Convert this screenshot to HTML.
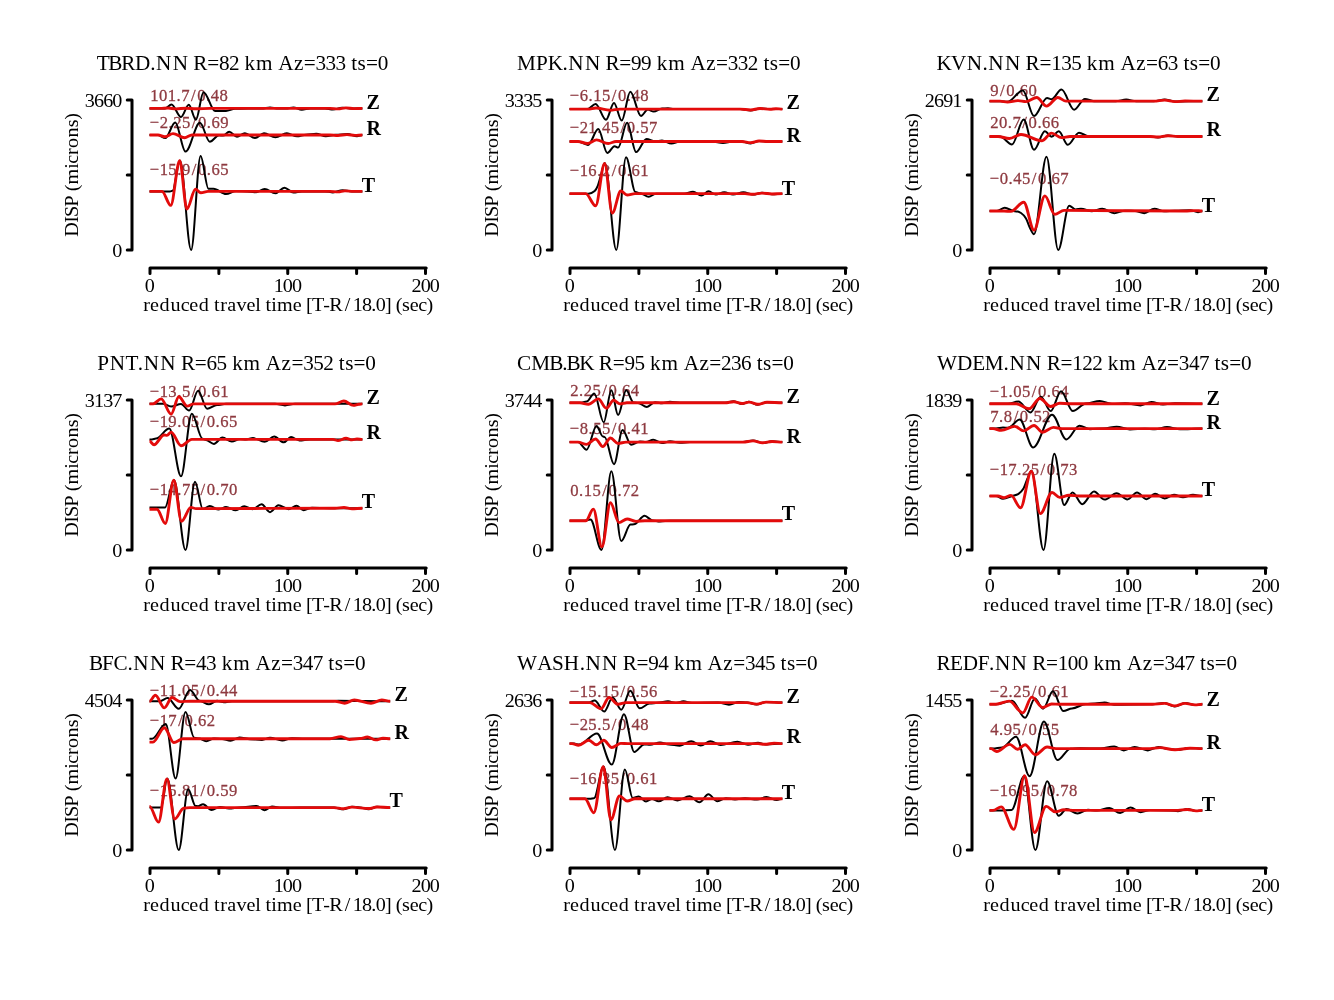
<!DOCTYPE html>
<html lang="en"><head><meta charset="utf-8"><title>Waveform fits</title>
<style>html,body{margin:0;padding:0;background:#fff;overflow:hidden}svg{display:block}text{font-family:"Liberation Serif","DejaVu Serif",serif;white-space:pre}.h{font-size:20.3px;fill:#000}.t{font-size:19.3px;fill:#000}.a{font-size:17.7px;fill:#8e3a40;stroke:#8e3a40;stroke-width:.3px}.c{font-size:20px;font-weight:bold;fill:#000}.ax{stroke:#000;stroke-width:3;fill:none;stroke-linecap:round;stroke-linejoin:round}.k{stroke:#000;stroke-width:2.0;fill:none;stroke-linejoin:round}.r{stroke:#e30b0b;stroke-width:2.9;fill:none;stroke-linejoin:round}</style></head><body>
<svg width="1334" height="1000" viewBox="0 0 1334 1000">
<rect width="1334" height="1000" fill="#fff"/>
<g>
<text class="h" transform="scale(1.0450 1)" x="92.5 103.66 115.92 129.18 143.78 149.35 165.28 180.43 185 198.25 209.5 219.08 228.81 234 244.97 261.18 266.24 281.32 290.7 301.94 311.53 321.11 330.84 336.07 342.13 350.23 361.48" y="70.3">TBRD.NN R=82 km Az=333 ts=0</text>
<path class="ax" d="M127.25 100 H132 V250 H127.25 M127.25 175 H132"/>
<path class="ax" d="M150 273.5 V268 H426.2 M425.5 268 V273.5M218.88 268 V273.5M287.75 268 V273.5M356.62 268 V273.5"/>
<text class="t" transform="scale(1.0450 1)" x="81.19 89.97 98.75 107.53" y="106.7">3660</text>
<text class="t" transform="scale(1.0450 1)" x="107.53" y="256.8">0</text>
<text class="t" transform="scale(1.0450 1)" x="138.62" y="291.7">0</text>
<text class="t" transform="scale(1.0450 1)" x="261.9 270.68 279.46" y="291.7">100</text>
<text class="t" transform="scale(1.0450 1)" x="393.76 402.54 411.32" y="291.7">200</text>
<text class="t" transform="scale(1.0450 1)" x="136.98 143.59 152.61 163.27 173.01 181.11 190.14 200.11 204.9 210.7 217.49 226.29 236 244.37 249.38 254.17 259.59 265.07 280.25 288.52 292.84 298.47 309.45 315.02 329.96 337.53 346.31 355.3 359.48 368.4 374.32 378.64 384.74 392.14 400.25 408.14" y="311.1">reduced travel time [T-R/18.0] (sec)</text>
<text class="t" transform="translate(78 175) rotate(-90) scale(1.0450 1)" x="-59.18 -45.67 -40.26 -30.35 -19.89 -15.58 -9.19 5.94 10.79 19.23 25.88 35.78 45.68 52.87" y="0">DISP (microns)</text>
<text class="a" transform="scale(0.9400 1)" x="159.79 169.07 178.35 187.79 192.8 203.3 209.88 219.31 224.32 233.6" y="101.15">101.7/0.48</text>
<text class="a" transform="scale(0.9400 1)" x="159.34 169.84 179.27 184.28 193.56 204.07 210.64 220.08 225.09 234.37" y="127.95">−2.25/0.69</text>
<text class="a" transform="scale(0.9400 1)" x="159.34 169.84 179.12 188.56 193.56 204.07 210.64 220.08 225.09 234.37" y="174.55">−15.9/0.65</text>
<path class="k" d="M149.5 108.4L165 108.4C167.21 108.4 169.29 104.4 171.5 104.4C174.73 104.4 177.77 117 181 117C183.65 117 186.15 104.8 188.8 104.8C191.21 104.8 193.49 119.7 195.9 119.7C198.48 119.7 200.92 92.2 203.5 92.2C207.48 92.2 211.22 111.1 215.2 111.1C218.87 111.1 222.33 111 226 111C229.06 111 231.94 108.8 235 108.8C244.18 108.8 252.82 108.4 262 108.4C264.72 108.4 267.28 107.42 270 107.42C272.72 107.42 275.28 108.4 278 108.4L286 108.4C288.52 108.4 290.88 107.42 293.4 107.42C296.26 107.42 298.94 109.71 301.8 109.71C304.59 109.71 307.21 108.4 310 108.4L325 108.4C327.72 108.4 330.28 109.55 333 109.55C336.06 109.55 338.94 107.74 342 107.74C344.72 107.74 347.28 108.4 350 108.4L362.4 108.4"/>
<path class="k" d="M149.5 135L158 135C160.48 135 162.82 138.1 165.3 138.1C168.67 138.1 171.83 122.4 175.2 122.4C178.7 122.4 182 151.6 185.5 151.6C190.4 151.6 195 122.8 199.9 122.8C203.27 122.8 206.43 141.7 209.8 141.7C212.93 141.7 215.87 135.2 219 135.2C220.36 135.2 221.64 135.6 223 135.6C225.11 135.6 227.09 131.8 229.2 131.8C231.85 131.8 234.35 136.7 237 136.7C239.69 136.7 242.21 133.2 244.9 133.2C248.33 133.2 251.57 137.95 255 137.95C258.06 137.95 260.94 133.36 264 133.36C267.88 133.36 271.52 137.3 275.4 137.3C279.28 137.3 282.92 133.36 286.8 133.36C290.27 133.36 293.53 136.31 297 136.31C300.06 136.31 302.94 134.67 306 134.67C309.47 134.67 312.73 133.69 316.2 133.69C319.46 133.69 322.54 136.31 325.8 136.31C329.27 136.31 332.53 134.84 336 134.84C339.88 134.84 343.52 134.02 347.4 134.02C350.66 134.02 353.74 136.31 357 136.31C358.84 136.31 360.56 135 362.4 135"/>
<path class="k" d="M149.5 191.4L170 191.4C170.85 191.4 171.65 190.8 172.5 190.8C175.05 190.8 177.45 160.5 180 160.5C183.77 160.5 187.33 250 191.1 250C194.33 250 197.37 155.9 200.6 155.9C203.29 155.9 205.81 188.8 208.5 188.8L213.5 188.8C217.75 188.8 221.75 194.1 226 194.1C229.4 194.1 232.6 191 236 191C240.76 191 245.24 191.73 250 191.73C252.04 191.73 253.96 192.22 256 192.22C258.92 192.22 261.68 188.94 264.6 188.94C268.27 188.94 271.73 193.37 275.4 193.37C278.46 193.37 281.34 187.79 284.4 187.79C287.46 187.79 290.34 192.38 293.4 192.38C296.32 192.38 299.08 191.4 302 191.4L325 191.4C327.72 191.4 330.28 192.38 333 192.38C336.26 192.38 339.34 190.25 342.6 190.25C345.8 190.25 348.8 191.4 352 191.4L362.4 191.4"/>
<path class="r" d="M149.5 108.4L160 108.4C162.72 108.4 165.28 108 168 108C170.72 108 173.28 108.9 176 108.9C179.4 108.9 182.6 108.2 186 108.2C189.4 108.2 192.6 108.8 196 108.8C200.76 108.8 205.24 108.4 210 108.4L330 108.4C332.72 108.4 335.28 108.88 338 108.88C340.72 108.88 343.28 107.92 346 107.92C348.72 107.92 351.28 108.64 354 108.64C356.86 108.64 359.54 108.4 362.4 108.4"/>
<path class="r" d="M149.5 135L158 135C160.38 135 162.62 136.8 165 136.8C167.72 136.8 170.28 133.6 173 133.6C176.94 133.6 180.66 137.7 184.6 137.7C187.12 137.7 189.48 135 192 135L300 135L330 135C332.72 135 335.28 135.48 338 135.48C341.06 135.48 343.94 134.64 347 134.64C349.72 134.64 352.28 135.36 355 135.36C357.52 135.36 359.88 135 362.4 135"/>
<path class="r" d="M149.5 191.4L162 191.4C164.96 191.4 167.74 205.4 170.7 205.4C173.76 205.4 176.64 160.8 179.7 160.8C182.15 160.8 184.45 209 186.9 209C189.79 209 192.51 189.2 195.4 189.2C197.24 189.2 198.96 192.8 200.8 192.8C203.25 192.8 205.55 191.4 208 191.4L330 191.4C332.72 191.4 335.28 191.88 338 191.88C340.38 191.88 342.62 190.92 345 190.92C347.72 190.92 350.28 191.4 353 191.4L362.4 191.4"/>
<text class="c" x="366.6" y="108.7">Z</text>
<text class="c" x="366.6" y="135.3">R</text>
<text class="c" x="361.8" y="191.7">T</text>
</g>
<g>
<text class="h" transform="scale(1.0450 1)" x="494.78 513.01 524.07 538.22 543.79 559.72 574.87 579.43 592.69 603.94 613.52 623.25 628.43 639.41 655.62 660.68 675.75 685.13 696.38 705.97 715.55 725.28 730.51 736.57 744.67 755.92" y="70.3">MPK.NN R=99 km Az=332 ts=0</text>
<path class="ax" d="M547.25 100 H552 V250 H547.25 M547.25 175 H552"/>
<path class="ax" d="M570 273.5 V268 H846.2 M845.5 268 V273.5M638.88 268 V273.5M707.75 268 V273.5M776.62 268 V273.5"/>
<text class="t" transform="scale(1.0450 1)" x="483.11 491.89 500.67 509.45" y="106.7">3335</text>
<text class="t" transform="scale(1.0450 1)" x="509.45" y="256.8">0</text>
<text class="t" transform="scale(1.0450 1)" x="540.53" y="291.7">0</text>
<text class="t" transform="scale(1.0450 1)" x="663.81 672.59 681.37" y="291.7">100</text>
<text class="t" transform="scale(1.0450 1)" x="795.68 804.46 813.24" y="291.7">200</text>
<text class="t" transform="scale(1.0450 1)" x="538.9 545.5 554.53 565.19 574.92 583.03 592.05 602.03 606.81 612.61 619.4 628.21 637.92 646.28 651.3 656.09 661.5 666.99 682.17 690.44 694.76 700.38 711.37 716.93 731.87 739.44 748.22 757.22 761.39 770.32 776.24 780.55 786.66 794.06 802.16 810.05" y="311.1">reduced travel time [T-R/18.0] (sec)</text>
<text class="t" transform="translate(498 175) rotate(-90) scale(1.0450 1)" x="-59.18 -45.67 -40.26 -30.35 -19.89 -15.58 -9.19 5.94 10.79 19.23 25.88 35.78 45.68 52.87" y="0">DISP (microns)</text>
<text class="a" transform="scale(0.9400 1)" x="606.15 616.65 626.08 631.09 640.37 650.88 657.45 666.89 671.89 681.18" y="100.95">−6.15/0.48</text>
<text class="a" transform="scale(0.9400 1)" x="606.15 616.65 625.93 635.36 640.37 649.65 660.16 666.73 676.17 681.18 690.46" y="132.85">−21.45/0.57</text>
<text class="a" transform="scale(0.9400 1)" x="606.15 616.65 625.93 635.36 640.37 650.88 657.45 666.89 671.89 681.18" y="175.8">−16.2/0.61</text>
<path class="k" d="M569.5 109.1L587.5 109.1C590.25 109.1 592.85 103.9 595.6 103.9C599.14 103.9 602.46 119.7 606 119.7C608.72 119.7 611.28 103 614 103C616.62 103 619.08 120.6 621.7 120.6C624.62 120.6 627.38 91.8 630.3 91.8C633.94 91.8 637.36 116 641 116C643.31 116 645.49 109.6 647.8 109.6C649.81 109.6 651.69 111.6 653.7 111.6C656.52 111.6 659.18 108.6 662 108.6C664.04 108.6 665.96 108.36 668 108.36C670.04 108.36 671.96 109.1 674 109.1L740 109.1C743.6 109.1 747 110.49 750.6 110.49C753.8 110.49 756.8 108.53 760 108.53C763.4 108.53 766.6 109.1 770 109.1L782.4 109.1"/>
<path class="k" d="M569.5 141.5L578 141.5C581.4 141.5 584.6 144.9 588 144.9C591.5 144.9 594.8 129.1 598.3 129.1C601.36 129.1 604.24 153 607.3 153C609.75 153 612.05 146.2 614.5 146.2C615.72 146.2 616.88 147.6 618.1 147.6C621.16 147.6 624.04 122.8 627.1 122.8C630.16 122.8 633.04 152.1 636.1 152.1C639.64 152.1 642.96 139 646.5 139C649.39 139 652.11 141.2 655 141.2C657.38 141.2 659.62 140.6 662 140.6C665.2 140.6 668.2 143.55 671.4 143.55C674.32 143.55 677.08 141.5 680 141.5L712 141.5C715.74 141.5 719.26 143.06 723 143.06C726.4 143.06 729.6 141.5 733 141.5L742 141.5C744.92 141.5 747.68 143.39 750.6 143.39C753.46 143.39 756.14 140.93 759 140.93C762.06 140.93 764.94 141.5 768 141.5L782.4 141.5"/>
<path class="k" d="M569.5 193.65L588.4 193.65C590.54 193.65 592.56 192.79 594.7 190.95C595.77 190.03 596.78 188.17 597.85 185.55C598.78 183.26 599.67 179.53 600.6 176.5C602.03 171.87 603.37 163 604.8 163C608.71 163 612.39 250 616.3 250C619.6 250 622.7 157.2 626 157.2C629.23 157.2 632.27 192 635.5 192C637.03 192 638.47 193.2 640 193.2C642.96 193.2 645.74 196.8 648.7 196.8C651.18 196.8 653.52 193.65 656 193.65L684 193.65C687.06 193.65 689.94 191.81 693 191.81C695.86 191.81 698.54 195.58 701.4 195.58C703.85 195.58 706.15 191.31 708.6 191.31C711.05 191.31 713.35 194.59 715.8 194.59C718.66 194.59 721.34 192.13 724.2 192.13C727.19 192.13 730.01 194.59 733 194.59C736.54 194.59 739.86 192.13 743.4 192.13C746.66 192.13 749.74 194.59 753 194.59C756.06 194.59 758.94 192.79 762 192.79C765.4 192.79 768.6 194.27 772 194.27C775.54 194.27 778.86 193.65 782.4 193.65"/>
<path class="r" d="M569.5 109.1L588 109.1C590.72 109.1 593.28 108 596 108C600.76 108 605.24 110.2 610 110.2C613.4 110.2 616.6 109.1 620 109.1L740 109.1C743.6 109.1 747 110 750.6 110C753.8 110 756.8 108.56 760 108.56C763.4 108.56 766.6 109.28 770 109.28C772.04 109.28 773.96 108.68 776 108.68C778.18 108.68 780.22 109.1 782.4 109.1"/>
<path class="r" d="M569.5 141.5L578 141.5C581.23 141.5 584.27 143.5 587.5 143.5C590.56 143.5 593.44 139.9 596.5 139.9C600.48 139.9 604.22 143.5 608.2 143.5C610.85 143.5 613.35 141.5 616 141.5L742 141.5C744.92 141.5 747.68 142.64 750.6 142.64C753.46 142.64 756.14 140.96 759 140.96C762.06 140.96 764.94 141.5 768 141.5L782.4 141.5"/>
<path class="r" d="M569.5 193.65L585.7 193.65C589.07 193.65 592.23 205.8 595.6 205.8C598.66 205.8 601.54 163.5 604.6 163.5C607.22 163.5 609.68 213 612.3 213C615.19 213 617.91 191 620.8 191C622.94 191 624.96 195 627.1 195C629.79 195 632.31 193.65 635 193.65L745 193.65C747.72 193.65 750.28 194.22 753 194.22C756.06 194.22 758.94 193.14 762 193.14C765.4 193.14 768.6 193.98 772 193.98C775.54 193.98 778.86 193.65 782.4 193.65"/>
<text class="c" x="786.6" y="109.4">Z</text>
<text class="c" x="786.6" y="141.5">R</text>
<text class="c" x="781.8" y="194.95">T</text>
</g>
<g>
<text class="h" transform="scale(1.0450 1)" x="896.28 910.16 925.04 940.19 945.76 961.69 976.84 981.41 994.66 1005.91 1015.49 1025.08 1034.8 1039.99 1050.96 1067.18 1072.24 1087.31 1096.69 1107.94 1117.52 1127.25 1132.48 1138.54 1146.64 1157.89" y="70.3">KVN.NN R=135 km Az=63 ts=0</text>
<path class="ax" d="M967.25 100 H972 V250 H967.25 M967.25 175 H972"/>
<path class="ax" d="M990 273.5 V268 H1266.2 M1265.5 268 V273.5M1058.88 268 V273.5M1127.75 268 V273.5M1196.62 268 V273.5"/>
<text class="t" transform="scale(1.0450 1)" x="885.02 893.8 902.58 911.36" y="106.7">2691</text>
<text class="t" transform="scale(1.0450 1)" x="911.36" y="256.8">0</text>
<text class="t" transform="scale(1.0450 1)" x="942.45" y="291.7">0</text>
<text class="t" transform="scale(1.0450 1)" x="1065.73 1074.51 1083.29" y="291.7">100</text>
<text class="t" transform="scale(1.0450 1)" x="1197.59 1206.37 1215.15" y="291.7">200</text>
<text class="t" transform="scale(1.0450 1)" x="940.81 947.41 956.44 967.1 976.84 984.94 993.97 1003.94 1008.73 1014.53 1021.31 1030.12 1039.83 1048.19 1053.21 1058 1063.42 1068.9 1084.08 1092.35 1096.67 1102.3 1113.28 1118.85 1133.79 1141.36 1150.14 1159.13 1163.31 1172.23 1178.15 1182.47 1188.57 1195.97 1204.08 1211.97" y="311.1">reduced travel time [T-R/18.0] (sec)</text>
<text class="t" transform="translate(918 175) rotate(-90) scale(1.0450 1)" x="-59.18 -45.67 -40.26 -30.35 -19.89 -15.58 -9.19 5.94 10.79 19.23 25.88 35.78 45.68 52.87" y="0">DISP (microns)</text>
<text class="a" transform="scale(0.9400 1)" x="1053.41 1063.91 1070.49 1079.92 1084.93 1094.21" y="95.9">9/0.60</text>
<text class="a" transform="scale(0.9400 1)" x="1053.41 1062.69 1072.12 1077.13 1087.64 1094.21 1103.64 1108.65 1117.94" y="127.85">20.7/0.66</text>
<text class="a" transform="scale(0.9400 1)" x="1052.96 1063.46 1072.89 1077.9 1087.18 1097.69 1104.26 1113.69 1118.7 1127.98" y="183.9">−0.45/0.67</text>
<path class="k" d="M989.5 101.15L1000 101.15C1002.55 101.15 1004.95 101.8 1007.5 101.8C1012.7 101.8 1017.6 90.4 1022.8 90.4C1026.61 90.4 1030.19 116 1034 116C1038.45 116 1042.65 98 1047.1 98C1048.6 98 1050 99.2 1051.5 99.2C1054.9 99.2 1058.1 89.5 1061.5 89.5C1065.78 89.5 1069.82 109.7 1074.1 109.7C1077.77 109.7 1081.23 98.9 1084.9 98.9C1087.99 98.9 1090.91 101.15 1094 101.15L1116 101.15C1119.47 101.15 1122.73 99.55 1126.2 99.55C1129.53 99.55 1132.67 101.15 1136 101.15L1154 101.15C1157.6 101.15 1161 99.55 1164.6 99.55C1168.14 99.55 1171.46 101.52 1175 101.52C1184.32 101.52 1193.08 101.15 1202.4 101.15"/>
<path class="k" d="M989.5 136.5L1000 136.5C1004.08 136.5 1007.92 144.4 1012 144.4C1015.98 144.4 1019.72 119.6 1023.7 119.6C1027.2 119.6 1030.5 149.8 1034 149.8C1037.71 149.8 1041.19 131.3 1044.9 131.3C1047.18 131.3 1049.32 136.7 1051.6 136.7C1054.05 136.7 1056.35 131.3 1058.8 131.3C1061.86 131.3 1064.74 144.8 1067.8 144.8C1071.61 144.8 1075.19 132.7 1079 132.7C1082.23 132.7 1085.27 136.2 1088.5 136.2C1092.41 136.2 1096.09 137.07 1100 137.07C1103.4 137.07 1106.6 136.5 1110 136.5L1150 136.5C1152.72 136.5 1155.28 137.4 1158 137.4C1161.4 137.4 1164.6 135.6 1168 135.6C1171.4 135.6 1174.6 136.5 1178 136.5L1202.4 136.5"/>
<path class="k" d="M989.5 211L997 211C999.65 211 1002.15 207.8 1004.8 207.8C1008.1 207.8 1011.2 211.2 1014.5 211.2C1016.71 211.2 1018.79 211.6 1021 213C1022.7 214.08 1024.3 215.67 1026 218.5C1027.36 220.77 1028.64 225.33 1030 228C1031.36 230.67 1032.64 234.2 1034 234.2C1038.25 234.2 1042.25 156.75 1046.5 156.75C1050.48 156.75 1054.22 250 1058.2 250C1061.94 250 1065.46 205.8 1069.2 205.8C1071.34 205.8 1073.36 209.4 1075.5 209.4C1077.37 209.4 1079.13 208.8 1081 208.8C1084.74 208.8 1088.26 211.16 1092 211.16C1095.47 211.16 1098.73 208.7 1102.2 208.7C1106.28 208.7 1110.12 213.13 1114.2 213.13C1117.87 213.13 1121.33 210.67 1125 210.67C1128.4 210.67 1131.6 211 1135 211C1138.13 211 1141.07 213.13 1144.2 213.13C1147.67 213.13 1150.93 208.7 1154.4 208.7C1157.66 208.7 1160.74 211.33 1164 211.33C1167.74 211.33 1171.26 210.67 1175 210.67C1180.1 210.67 1184.9 210.18 1190 210.18C1192.72 210.18 1195.28 212.15 1198 212.15C1199.5 212.15 1200.9 211 1202.4 211"/>
<path class="r" d="M989.5 101.15L1000 101.15C1002.55 101.15 1004.95 102 1007.5 102C1011.07 102 1014.43 100.6 1018 100.6C1020.72 100.6 1023.28 101.6 1026 101.6C1029.64 101.6 1033.06 97.5 1036.7 97.5C1040.07 97.5 1043.23 106.1 1046.6 106.1C1050.44 106.1 1054.06 97.5 1057.9 97.5C1060.65 97.5 1063.25 101.15 1066 101.15L1154 101.15C1157.6 101.15 1161 100.1 1164.6 100.1C1168.14 100.1 1171.46 101.66 1175 101.66C1178.4 101.66 1181.6 101.06 1185 101.06C1190.92 101.06 1196.48 101.15 1202.4 101.15"/>
<path class="r" d="M989.5 136.5L998 136.5C1001.84 136.5 1005.46 138.5 1009.3 138.5C1013.28 138.5 1017.02 134.5 1021 134.5C1028.04 134.5 1034.66 140.8 1041.7 140.8C1045.07 140.8 1048.23 133.1 1051.6 133.1C1054.97 133.1 1058.13 137.6 1061.5 137.6C1064.39 137.6 1067.11 136.5 1070 136.5L1150 136.5C1152.72 136.5 1155.28 137.04 1158 137.04C1161.4 137.04 1164.6 135.72 1168 135.72C1171.4 135.72 1174.6 136.5 1178 136.5L1202.4 136.5"/>
<path class="r" d="M989.5 211L1004 211C1006.38 211 1008.62 211.4 1011 211.4C1015.32 211.4 1019.38 202.2 1023.7 202.2C1027.2 202.2 1030.5 230.1 1034 230.1C1037.71 230.1 1041.19 195.9 1044.9 195.9C1048.27 195.9 1051.43 214.4 1054.8 214.4C1057.93 214.4 1060.87 210.4 1064 210.4C1105.14 210.4 1143.86 211 1185 211C1188.4 211 1191.6 210.64 1195 210.64C1197.52 210.64 1199.88 211 1202.4 211"/>
<text class="c" x="1206.6" y="101.45">Z</text>
<text class="c" x="1206.6" y="135.7">R</text>
<text class="c" x="1201.8" y="212.3">T</text>
</g>
<g>
<text class="h" transform="scale(1.0450 1)" x="92.97 105.03 120 131.94 137.5 153.43 168.58 173.15 186.41 197.65 207.24 216.96 222.15 233.12 249.34 254.4 269.47 278.85 290.1 299.68 309.27 318.99 324.23 330.29 338.38 349.63" y="370.3">PNT.NN R=65 km Az=352 ts=0</text>
<path class="ax" d="M127.25 400 H132 V550 H127.25 M127.25 475 H132"/>
<path class="ax" d="M150 573.5 V568 H426.2 M425.5 568 V573.5M218.88 568 V573.5M287.75 568 V573.5M356.62 568 V573.5"/>
<text class="t" transform="scale(1.0450 1)" x="81.19 89.97 98.75 107.53" y="406.7">3137</text>
<text class="t" transform="scale(1.0450 1)" x="107.53" y="556.8">0</text>
<text class="t" transform="scale(1.0450 1)" x="138.62" y="591.7">0</text>
<text class="t" transform="scale(1.0450 1)" x="261.9 270.68 279.46" y="591.7">100</text>
<text class="t" transform="scale(1.0450 1)" x="393.76 402.54 411.32" y="591.7">200</text>
<text class="t" transform="scale(1.0450 1)" x="136.98 143.59 152.61 163.27 173.01 181.11 190.14 200.11 204.9 210.7 217.49 226.29 236 244.37 249.38 254.17 259.59 265.07 280.25 288.52 292.84 298.47 309.45 315.02 329.96 337.53 346.31 355.3 359.48 368.4 374.32 378.64 384.74 392.14 400.25 408.14" y="611.1">reduced travel time [T-R/18.0] (sec)</text>
<text class="t" transform="translate(78 475) rotate(-90) scale(1.0450 1)" x="-59.18 -45.67 -40.26 -30.35 -19.89 -15.58 -9.19 5.94 10.79 19.23 25.88 35.78 45.68 52.87" y="0">DISP (microns)</text>
<text class="a" transform="scale(0.9400 1)" x="159.34 169.84 179.12 188.56 193.56 204.07 210.64 220.08 225.09 234.37" y="396.8">−13.5/0.61</text>
<text class="a" transform="scale(0.9400 1)" x="159.34 169.84 179.12 188.56 193.56 202.85 213.35 219.93 229.36 234.37 243.65" y="426.95">−19.05/0.65</text>
<text class="a" transform="scale(0.9400 1)" x="159.34 169.84 179.12 188.56 193.56 202.85 213.35 219.93 229.36 234.37 243.65" y="494.85">−14.75/0.70</text>
<path class="k" d="M149.5 403.85L163 403.85C165.75 403.85 168.35 406.6 171.1 406.6C174.47 406.6 177.63 403.9 181 403.9C183.75 403.9 186.35 410.6 189.1 410.6C192.16 410.6 195.04 390.8 198.1 390.8C201.16 390.8 204.04 408.8 207.1 408.8C210.47 408.8 213.63 405 217 405C220.06 405 222.94 403.85 226 403.85L275 403.85C278.4 403.85 281.6 405.45 285 405.45C288.4 405.45 291.6 403.85 295 403.85L330 403.85L362.4 403.85"/>
<path class="k" d="M149.5 439.4L152 439.4C153.36 439.4 154.64 438.6 156 438.6C160.52 438.6 164.78 428.6 169.3 428.6C173.28 428.6 177.02 476.25 181 476.25C184.67 476.25 188.13 413.75 191.8 413.75C195.47 413.75 198.93 438.8 202.6 438.8C203.76 438.8 204.84 440 206 440C208.69 440 211.21 443.9 213.9 443.9C216.79 443.9 219.51 437.6 222.4 437.6C225.6 437.6 228.6 441.53 231.8 441.53C234.59 441.53 237.21 439.07 240 439.07C242.04 439.07 243.96 439.56 246 439.56C248.38 439.56 250.62 438.09 253 438.09C256.94 438.09 260.66 441.86 264.6 441.86C267.86 441.86 270.94 436.45 274.2 436.45C277.46 436.45 280.54 442.35 283.8 442.35C286.25 442.35 288.55 437.1 291 437.1C293.86 437.1 296.54 440.38 299.4 440.38C303 440.38 306.4 439.4 310 439.4L335 439.4L362.4 439.4"/>
<path class="k" d="M149.5 507.4L165 507.4C168.06 507.4 170.94 480 174 480C177.91 480 181.59 550.1 185.5 550.1C188.73 550.1 191.77 481.65 195 481.65C197.65 481.65 200.15 509 202.8 509C205.18 509 207.42 506 209.8 506C212.86 506 215.74 509.6 218.8 509.6C221.25 509.6 223.55 506.89 226 506.89C229.33 506.89 232.47 510.33 235.8 510.33C238.66 510.33 241.34 506.23 244.2 506.23C247.02 506.23 249.68 509.18 252.5 509.18C255.59 509.18 258.51 504.26 261.6 504.26C264.46 504.26 267.14 512.14 270 512.14C272.86 512.14 275.54 505.25 278.4 505.25C281.87 505.25 285.13 509.18 288.6 509.18C291.25 509.18 293.75 505.74 296.4 505.74C298.85 505.74 301.15 510.17 303.6 510.17C306.46 510.17 309.14 507.71 312 507.71C319.82 507.71 327.18 508.2 335 508.2L362.4 508.2"/>
<path class="r" d="M149.5 403.85L153 403.85C155.79 403.85 158.41 398.9 161.2 398.9C164.57 398.9 167.73 414.2 171.1 414.2C173.72 414.2 176.18 396.7 178.8 396.7C181.69 396.7 184.41 406.1 187.3 406.1C189.44 406.1 191.46 403.85 193.6 403.85L335 403.85C337.99 403.85 340.81 401.06 343.8 401.06C347.06 401.06 350.14 405.38 353.4 405.38C355.3 405.38 357.1 404.3 359 404.3C360.16 404.3 361.24 403.85 362.4 403.85"/>
<path class="r" d="M149.5 441.2C151.03 441.2 152.47 444.8 154 444.8C157.4 444.8 160.6 435 164 435C165.02 435 165.98 435.4 167 435.4C168.39 435.4 169.71 432.2 171.1 432.2C174.47 432.2 177.63 445.7 181 445.7C184.67 445.7 188.13 439.4 191.8 439.4L333 439.4C334.7 439.4 336.3 440.6 338 440.6C340.72 440.6 343.28 438.32 346 438.32C348.04 438.32 349.96 439.88 352 439.88C353.7 439.88 355.3 439.04 357 439.04C358.84 439.04 360.56 439.4 362.4 439.4"/>
<path class="r" d="M149.5 509.2L157 509.2C159.81 509.2 162.44 523.5 165.25 523.5C168.16 523.5 170.89 480.3 173.8 480.3C176.42 480.3 178.88 521.25 181.5 521.25C184.7 521.25 187.7 507.4 190.9 507.4C192.63 507.4 194.27 508.6 196 508.6C243.26 508.6 287.74 508.2 335 508.2C338.06 508.2 340.94 507.48 344 507.48C346.72 507.48 349.28 508.68 352 508.68C355.54 508.68 358.86 508.2 362.4 508.2"/>
<text class="c" x="366.6" y="403.85">Z</text>
<text class="c" x="366.6" y="439.4">R</text>
<text class="c" x="361.8" y="507.5">T</text>
</g>
<g>
<text class="h" transform="scale(1.0450 1)" x="494.76 508.37 525.54 538.03 542.05 554.3 568.45 573.01 586.27 597.52 607.1 616.83 622.01 632.98 649.2 654.26 669.33 678.71 689.96 699.55 709.13 718.85 724.09 730.15 738.25 749.5" y="370.3">CMB.BK R=95 km Az=236 ts=0</text>
<path class="ax" d="M547.25 400 H552 V550 H547.25 M547.25 475 H552"/>
<path class="ax" d="M570 573.5 V568 H846.2 M845.5 568 V573.5M638.88 568 V573.5M707.75 568 V573.5M776.62 568 V573.5"/>
<text class="t" transform="scale(1.0450 1)" x="483.11 491.89 500.67 509.45" y="406.7">3744</text>
<text class="t" transform="scale(1.0450 1)" x="509.45" y="556.8">0</text>
<text class="t" transform="scale(1.0450 1)" x="540.53" y="591.7">0</text>
<text class="t" transform="scale(1.0450 1)" x="663.81 672.59 681.37" y="591.7">100</text>
<text class="t" transform="scale(1.0450 1)" x="795.68 804.46 813.24" y="591.7">200</text>
<text class="t" transform="scale(1.0450 1)" x="538.9 545.5 554.53 565.19 574.92 583.03 592.05 602.03 606.81 612.61 619.4 628.21 637.92 646.28 651.3 656.09 661.5 666.99 682.17 690.44 694.76 700.38 711.37 716.93 731.87 739.44 748.22 757.22 761.39 770.32 776.24 780.55 786.66 794.06 802.16 810.05" y="611.1">reduced travel time [T-R/18.0] (sec)</text>
<text class="t" transform="translate(498 475) rotate(-90) scale(1.0450 1)" x="-59.18 -45.67 -40.26 -30.35 -19.89 -15.58 -9.19 5.94 10.79 19.23 25.88 35.78 45.68 52.87" y="0">DISP (microns)</text>
<text class="a" transform="scale(0.9400 1)" x="606.6 616.03 621.04 630.32 640.83 647.4 656.84 661.84 671.13" y="395.9">2.25/0.64</text>
<text class="a" transform="scale(0.9400 1)" x="606.15 616.65 626.08 631.09 640.37 650.88 657.45 666.89 671.89 681.18" y="434.15">−8.55/0.41</text>
<text class="a" transform="scale(0.9400 1)" x="606.6 616.03 621.04 630.32 640.83 647.4 656.84 661.84 671.13" y="495.75">0.15/0.72</text>
<path class="k" d="M569.5 402.8L580 402.8C582.24 402.8 584.36 401.6 586.6 401.6C589.2 401.6 591.65 393.5 594.25 393.5C597.46 393.5 600.49 422.3 603.7 422.3C606.3 422.3 608.75 390.35 611.35 390.35C613.64 390.35 615.81 415.1 618.1 415.1C620.85 415.1 623.45 390.35 626.2 390.35C628.68 390.35 631.02 402.4 633.5 402.4C635.03 402.4 636.47 403 638 403C641.03 403 643.87 407 646.9 407C649.65 407 652.25 402.2 655 402.2C657.38 402.2 659.62 403.29 662 403.29C664.72 403.29 667.28 401.82 670 401.82C673.4 401.82 676.6 402.8 680 402.8L725 402.8C727.99 402.8 730.81 401.32 733.8 401.32C736.59 401.32 739.21 404.11 742 404.11C744.38 404.11 746.62 401.82 749 401.82C751.99 401.82 754.81 404.77 757.8 404.77C760.93 404.77 763.87 402.14 767 402.14C772.24 402.14 777.16 402.8 782.4 402.8"/>
<path class="k" d="M569.5 442.1L578 442.1C580.92 442.1 583.68 449.75 586.6 449.75C589.97 449.75 593.13 425.9 596.5 425.9C598.71 425.9 600.79 436.6 603 436.6C603.54 436.6 604.06 437 604.6 437C607.8 437 610.8 464.15 614 464.15C616.92 464.15 619.68 429.95 622.6 429.95C625.51 429.95 628.24 444.8 631.15 444.8C634.16 444.8 636.99 441.6 640 441.6C642.04 441.6 643.96 442 646 442C648.45 442 650.75 439.85 653.2 439.85C656.19 439.85 659.01 443 662 443C664.72 443 667.28 441.36 670 441.36C673.4 441.36 676.6 442.84 680 442.84C683.4 442.84 686.6 442.1 690 442.1L743 442.1C746.4 442.1 749.6 440.38 753 440.38C756.26 440.38 759.34 443 762.6 443C765.8 443 768.8 441.36 772 441.36C775.54 441.36 778.86 442.1 782.4 442.1"/>
<path class="k" d="M569.5 520.7L583 520.7C585.55 520.7 587.95 519.6 590.5 519.6C594.22 519.6 597.73 550.05 601.45 550.05C604.82 550.05 607.98 471.3 611.35 471.3C614.72 471.3 617.88 541.05 621.25 541.05C624.39 541.05 627.36 524.6 630.5 524.6C631.69 524.6 632.81 524.2 634 524.2C637.62 524.2 641.03 515.85 644.65 515.85C647.32 515.85 649.83 520.4 652.5 520.4C655.05 520.4 657.45 521.4 660 521.4C663.4 521.4 666.6 520.7 670 520.7L782.4 520.7"/>
<path class="r" d="M569.5 402.8L580 402.8C582.86 402.8 585.54 404.3 588.4 404.3C591.77 404.3 594.93 398.9 598.3 398.9C601.05 398.9 603.65 408.35 606.4 408.35C608.85 408.35 611.15 400.25 613.6 400.25C615.74 400.25 617.76 403.85 619.9 403.85C622.31 403.85 624.59 402.8 627 402.8L725 402.8C727.99 402.8 730.81 401.72 733.8 401.72C736.59 401.72 739.21 403.52 742 403.52C744.38 403.52 746.62 402.08 749 402.08C751.99 402.08 754.81 404.24 757.8 404.24C760.93 404.24 763.87 402.32 767 402.32C772.24 402.32 777.16 402.8 782.4 402.8"/>
<path class="r" d="M569.5 442.1L578 442.1C580.92 442.1 583.68 444.35 586.6 444.35C589.66 444.35 592.54 438.95 595.6 438.95C598.05 438.95 600.35 446.6 602.8 446.6C605.4 446.6 607.85 438.05 610.45 438.05C613.05 438.05 615.5 443.45 618.1 443.45C620.79 443.45 623.31 442.1 626 442.1L743 442.1C746.4 442.1 749.6 440.84 753 440.84C756.26 440.84 759.34 442.76 762.6 442.76C765.8 442.76 768.8 441.56 772 441.56C775.54 441.56 778.86 442.1 782.4 442.1"/>
<path class="r" d="M569.5 520.7L586 520.7C588.5 520.7 590.85 509.1 593.35 509.1C596.26 509.1 598.99 546.9 601.9 546.9C604.81 546.9 607.54 502.8 610.45 502.8C613.36 502.8 616.09 522.6 619 522.6C621.75 522.6 624.35 519 627.1 519C630.13 519 632.97 521.4 636 521.4C639.06 521.4 641.94 520.7 645 520.7L782.4 520.7"/>
<text class="c" x="786.6" y="403.1">Z</text>
<text class="c" x="786.6" y="443.1">R</text>
<text class="c" x="781.8" y="520">T</text>
</g>
<g>
<text class="h" transform="scale(1.0450 1)" x="896.65 915.91 930.31 942.41 960.36 965.92 981.85 997 1001.57 1014.82 1026.07 1035.66 1045.24 1054.97 1060.15 1071.12 1087.34 1092.4 1107.47 1116.85 1128.1 1137.69 1147.27 1156.99 1162.23 1168.29 1176.39 1187.64" y="370.3">WDEM.NN R=122 km Az=347 ts=0</text>
<path class="ax" d="M967.25 400 H972 V550 H967.25 M967.25 475 H972"/>
<path class="ax" d="M990 573.5 V568 H1266.2 M1265.5 568 V573.5M1058.88 568 V573.5M1127.75 568 V573.5M1196.62 568 V573.5"/>
<text class="t" transform="scale(1.0450 1)" x="885.02 893.8 902.58 911.36" y="406.7">1839</text>
<text class="t" transform="scale(1.0450 1)" x="911.36" y="556.8">0</text>
<text class="t" transform="scale(1.0450 1)" x="942.45" y="591.7">0</text>
<text class="t" transform="scale(1.0450 1)" x="1065.73 1074.51 1083.29" y="591.7">100</text>
<text class="t" transform="scale(1.0450 1)" x="1197.59 1206.37 1215.15" y="591.7">200</text>
<text class="t" transform="scale(1.0450 1)" x="940.81 947.41 956.44 967.1 976.84 984.94 993.97 1003.94 1008.73 1014.53 1021.31 1030.12 1039.83 1048.19 1053.21 1058 1063.42 1068.9 1084.08 1092.35 1096.67 1102.3 1113.28 1118.85 1133.79 1141.36 1150.14 1159.13 1163.31 1172.23 1178.15 1182.47 1188.57 1195.97 1204.08 1211.97" y="611.1">reduced travel time [T-R/18.0] (sec)</text>
<text class="t" transform="translate(918 475) rotate(-90) scale(1.0450 1)" x="-59.18 -45.67 -40.26 -30.35 -19.89 -15.58 -9.19 5.94 10.79 19.23 25.88 35.78 45.68 52.87" y="0">DISP (microns)</text>
<text class="a" transform="scale(0.9400 1)" x="1052.96 1063.46 1072.89 1077.9 1087.18 1097.69 1104.26 1113.69 1118.7 1127.98" y="397.25">−1.05/0.64</text>
<text class="a" transform="scale(0.9400 1)" x="1053.41 1062.84 1067.85 1078.36 1084.93 1094.36 1099.37 1108.65" y="421.75">7.8/0.52</text>
<text class="a" transform="scale(0.9400 1)" x="1052.96 1063.46 1072.74 1082.17 1087.18 1096.46 1106.97 1113.54 1122.98 1127.98 1137.27" y="474.6">−17.25/0.73</text>
<path class="k" d="M989.5 403.7L1008 403.7C1011.5 403.7 1014.8 401.6 1018.3 401.6C1022.43 401.6 1026.32 412.4 1030.45 412.4C1033.97 412.4 1037.28 396.65 1040.8 396.65C1044.17 396.65 1047.33 411.05 1050.7 411.05C1054.22 411.05 1057.53 391.25 1061.05 391.25C1065.03 391.25 1068.77 411.05 1072.75 411.05C1077.26 411.05 1081.49 403.4 1086 403.4C1090.69 403.4 1095.11 401 1099.8 401C1103.95 401 1107.85 404.11 1112 404.11C1116.42 404.11 1120.58 403.29 1125 403.29C1130.3 403.29 1135.3 405.42 1140.6 405.42C1144.27 405.42 1147.73 401.98 1151.4 401.98C1155.34 401.98 1159.06 404.44 1163 404.44C1167.08 404.44 1170.92 403.29 1175 403.29C1184.32 403.29 1193.08 403.7 1202.4 403.7"/>
<path class="k" d="M989.5 428.6L996 428.6C998.38 428.6 1000.62 427.6 1003 427.6C1004.7 427.6 1006.3 427.8 1008 427.8C1011.96 427.8 1015.69 419.6 1019.65 419.6C1024.24 419.6 1028.56 447.5 1033.15 447.5C1039.58 447.5 1045.62 414.65 1052.05 414.65C1056.95 414.65 1061.55 439.4 1066.45 439.4C1070.89 439.4 1075.06 425.7 1079.5 425.7C1083.07 425.7 1086.43 429.2 1090 429.2C1094.76 429.2 1099.24 428.44 1104 428.44C1108.28 428.44 1112.32 426.63 1116.6 426.63C1121.16 426.63 1125.44 429.42 1130 429.42C1135.1 429.42 1139.9 428.76 1145 428.76C1148.4 428.76 1151.6 429.26 1155 429.26C1159.08 429.26 1162.92 426.96 1167 426.96C1171.42 426.96 1175.58 429.26 1180 429.26C1187.62 429.26 1194.78 428.6 1202.4 428.6"/>
<path class="k" d="M989.5 496L996 496C998.38 496 1000.62 498.75 1003 498.75C1006.06 498.75 1008.94 496.98 1012 496C1014.21 495.29 1016.29 495.24 1018.5 493.8C1020.2 492.69 1021.8 491.36 1023.5 488.5C1024.79 486.33 1026.01 481.86 1027.3 479C1028.73 475.84 1030.07 470.8 1031.5 470.8C1035.58 470.8 1039.42 550.05 1043.5 550.05C1047.17 550.05 1050.63 453.8 1054.3 453.8C1057.67 453.8 1060.83 505.05 1064.2 505.05C1067.02 505.05 1069.68 492.45 1072.5 492.45C1075.8 492.45 1078.9 504.15 1082.2 504.15C1086.21 504.15 1089.99 491.55 1094 491.55C1097.6 491.55 1101 499.61 1104.6 499.61C1108.68 499.61 1112.52 493.21 1116.6 493.21C1120.27 493.21 1123.73 499.44 1127.4 499.44C1130.66 499.44 1133.74 492.39 1137 492.39C1140.26 492.39 1143.34 499.28 1146.6 499.28C1149.46 499.28 1152.14 493.87 1155 493.87C1158.26 493.87 1161.34 498.46 1164.6 498.46C1167.8 498.46 1170.8 494.69 1174 494.69C1177.06 494.69 1179.94 497.31 1183 497.31C1186.4 497.31 1189.6 494.85 1193 494.85C1196.2 494.85 1199.2 496 1202.4 496"/>
<path class="r" d="M989.5 403.7L1016 403.7C1020.45 403.7 1024.65 408.8 1029.1 408.8C1032.77 408.8 1036.23 398.45 1039.9 398.45C1043.57 398.45 1047.03 406.55 1050.7 406.55C1053.76 406.55 1056.64 403.2 1059.7 403.2C1063.2 403.2 1066.5 403.7 1070 403.7L1202.4 403.7"/>
<path class="r" d="M989.5 428.6L993 428.6C995.79 428.6 998.41 430.4 1001.2 430.4C1005.79 430.4 1010.11 426.35 1014.7 426.35C1017.76 426.35 1020.64 430.85 1023.7 430.85C1027.22 430.85 1030.53 425.45 1034.05 425.45C1036.96 425.45 1039.69 432.2 1042.6 432.2C1046.27 432.2 1049.73 427.4 1053.4 427.4C1056.32 427.4 1059.08 428.6 1062 428.6L1202.4 428.6"/>
<path class="r" d="M989.5 496L998 496C1000.04 496 1001.96 497.6 1004 497.6C1006.38 497.6 1008.62 495.4 1011 495.4C1014.25 495.4 1017.3 507.75 1020.55 507.75C1024.22 507.75 1027.68 471.3 1031.35 471.3C1034.41 471.3 1037.29 513.6 1040.35 513.6C1044.33 513.6 1048.07 492.45 1052.05 492.45C1054.65 492.45 1057.1 497.4 1059.7 497.4C1062.86 497.4 1065.84 495.2 1069 495.2C1072.74 495.2 1076.26 496 1080 496L1202.4 496"/>
<text class="c" x="1206.6" y="404.85">Z</text>
<text class="c" x="1206.6" y="428.9">R</text>
<text class="c" x="1201.8" y="496.3">T</text>
</g>
<g>
<text class="h" transform="scale(1.0450 1)" x="85.21 97.52 108.52 121.94 127.51 143.44 158.59 163.15 176.41 187.66 197.24 206.97 212.15 223.13 239.34 244.4 259.47 268.85 280.1 289.69 299.27 309 314.23 320.29 328.39 339.64" y="670.3">BFC.NN R=43 km Az=347 ts=0</text>
<path class="ax" d="M127.25 700 H132 V850 H127.25 M127.25 775 H132"/>
<path class="ax" d="M150 873.5 V868 H426.2 M425.5 868 V873.5M218.88 868 V873.5M287.75 868 V873.5M356.62 868 V873.5"/>
<text class="t" transform="scale(1.0450 1)" x="81.19 89.97 98.75 107.53" y="706.7">4504</text>
<text class="t" transform="scale(1.0450 1)" x="107.53" y="856.8">0</text>
<text class="t" transform="scale(1.0450 1)" x="138.62" y="891.7">0</text>
<text class="t" transform="scale(1.0450 1)" x="261.9 270.68 279.46" y="891.7">100</text>
<text class="t" transform="scale(1.0450 1)" x="393.76 402.54 411.32" y="891.7">200</text>
<text class="t" transform="scale(1.0450 1)" x="136.98 143.59 152.61 163.27 173.01 181.11 190.14 200.11 204.9 210.7 217.49 226.29 236 244.37 249.38 254.17 259.59 265.07 280.25 288.52 292.84 298.47 309.45 315.02 329.96 337.53 346.31 355.3 359.48 368.4 374.32 378.64 384.74 392.14 400.25 408.14" y="911.1">reduced travel time [T-R/18.0] (sec)</text>
<text class="t" transform="translate(78 775) rotate(-90) scale(1.0450 1)" x="-59.18 -45.67 -40.26 -30.35 -19.89 -15.58 -9.19 5.94 10.79 19.23 25.88 35.78 45.68 52.87" y="0">DISP (microns)</text>
<text class="a" transform="scale(0.9400 1)" x="159.34 169.84 179.12 188.56 193.56 202.85 213.35 219.93 229.36 234.37 243.65" y="695.9">−11.05/0.44</text>
<text class="a" transform="scale(0.9400 1)" x="159.34 169.84 179.12 189.63 196.2 205.63 210.64 219.93" y="726.05">−17/0.62</text>
<text class="a" transform="scale(0.9400 1)" x="159.34 169.84 179.12 188.56 193.56 202.85 213.35 219.93 229.36 234.37 243.65" y="795.75">−15.81/0.59</text>
<path class="k" d="M149.5 701.2L160 701.2C162.55 701.2 164.95 698 167.5 698C171.32 698 174.93 708.8 178.75 708.8C182.57 708.8 186.18 689.9 190 689.9C193.23 689.9 196.27 700.8 199.5 700.8C202.7 700.8 205.7 704.3 208.9 704.3C211.65 704.3 214.25 700.87 217 700.87C219.38 700.87 221.62 702.35 224 702.35C226.72 702.35 229.28 701.2 232 701.2L300 701.2L332 701.2C334.04 701.2 335.96 700.71 338 700.71C355.75 700.71 372.45 701.2 390.2 701.2"/>
<path class="k" d="M149.5 738.8L152 738.8C156.66 738.8 161.04 724.1 165.7 724.1C169.07 724.1 172.23 778.5 175.6 778.5C178.97 778.5 182.13 711.95 185.5 711.95C188.49 711.95 191.31 737.8 194.3 737.8C195.9 737.8 197.4 738.6 199 738.6C201.45 738.6 203.75 741.2 206.2 741.2C208.85 741.2 211.35 738.47 214 738.47C216.72 738.47 219.28 738.96 222 738.96C224.89 738.96 227.61 740.77 230.5 740.77C233.56 740.77 236.44 737.49 239.5 737.49C243.07 737.49 246.43 739.13 250 739.13C254.08 739.13 257.92 739.95 262 739.95C264.72 739.95 267.28 737.82 270 737.82C274.15 737.82 278.05 740.44 282.2 740.44C285.53 740.44 288.67 738.14 292 738.14C296.42 738.14 300.58 738.8 305 738.8L330 738.8L390.2 738.8"/>
<path class="k" d="M149.5 807.6L161 807.6C163.14 807.6 165.16 778.5 167.3 778.5C171.19 778.5 174.86 850.05 178.75 850.05C181.96 850.05 184.99 789.3 188.2 789.3C190.72 789.3 193.08 806 195.6 806C196.42 806 197.18 806.2 198 806.2C199.72 806.2 201.33 804.15 203.05 804.15C205.96 804.15 208.69 810 211.6 810C214.46 810 217.14 806.94 220 806.94C223.06 806.94 225.94 808.42 229 808.42C232.74 808.42 236.26 807.44 240 807.44C245.64 807.44 250.96 805.88 256.6 805.88C259.25 805.88 261.75 810.22 264.4 810.22C266.98 810.22 269.42 806.62 272 806.62C275.4 806.62 278.6 807.76 282 807.76C288.12 807.76 293.88 807.6 300 807.6L334 807.6C337.2 807.6 340.2 809.24 343.4 809.24C346.32 809.24 349.08 806.78 352 806.78C354.72 806.78 357.28 807.44 360 807.44C362.92 807.44 365.68 809.24 368.6 809.24C371.46 809.24 374.14 806.78 377 806.78C381.49 806.78 385.71 807.6 390.2 807.6"/>
<path class="r" d="M149.5 701.2C151.49 701.2 153.36 695.3 155.35 695.3C158.41 695.3 161.29 707.9 164.35 707.9C166.95 707.9 169.4 697.55 172 697.55C174.75 697.55 177.35 701.6 180.1 701.6C183.47 701.6 186.63 701.2 190 701.2L335 701.2C338.26 701.2 341.34 703.24 344.6 703.24C347.86 703.24 350.94 700 354.2 700C359.91 700 365.29 703.24 371 703.24C374.67 703.24 378.13 700 381.8 700C384.66 700 387.34 701.2 390.2 701.2"/>
<path class="r" d="M149.5 742.1L153 742.1C156.86 742.1 160.49 727.7 164.35 727.7C167.56 727.7 170.59 742.55 173.8 742.55C176.86 742.55 179.74 738.8 182.8 738.8L330 738.8C333.74 738.8 337.26 736.64 341 736.64C343.86 736.64 346.54 739.52 349.4 739.52C353 739.52 356.4 738.56 360 738.56C362.52 738.56 364.88 737 367.4 737C370.26 737 372.94 739.88 375.8 739.88C378.25 739.88 380.55 738.32 383 738.32C385.45 738.32 387.75 738.8 390.2 738.8"/>
<path class="r" d="M149.5 806.4C152.56 806.4 155.44 822.15 158.5 822.15C161.36 822.15 164.04 778.95 166.9 778.95C169.55 778.95 172.05 819 174.7 819C177.76 819 180.64 808.2 183.7 808.2C185.84 808.2 187.86 807.6 190 807.6L334 807.6C337.2 807.6 340.2 808.68 343.4 808.68C346.32 808.68 349.08 807.12 352 807.12C357.64 807.12 362.96 808.56 368.6 808.56C371.46 808.56 374.14 807 377 807C381.49 807 385.71 807.6 390.2 807.6"/>
<text class="c" x="394.4" y="700.8">Z</text>
<text class="c" x="394.4" y="738.8">R</text>
<text class="c" x="389.6" y="806.9">T</text>
</g>
<g>
<text class="h" transform="scale(1.0450 1)" x="494.74 514.03 528.2 539.52 554.69 560.25 576.18 591.33 595.9 609.15 620.4 629.99 639.71 644.9 655.87 672.09 677.15 692.22 701.6 712.85 722.43 732.02 741.74 746.98 753.04 761.13 772.38" y="670.3">WASH.NN R=94 km Az=345 ts=0</text>
<path class="ax" d="M547.25 700 H552 V850 H547.25 M547.25 775 H552"/>
<path class="ax" d="M570 873.5 V868 H846.2 M845.5 868 V873.5M638.88 868 V873.5M707.75 868 V873.5M776.62 868 V873.5"/>
<text class="t" transform="scale(1.0450 1)" x="483.11 491.89 500.67 509.45" y="706.7">2636</text>
<text class="t" transform="scale(1.0450 1)" x="509.45" y="856.8">0</text>
<text class="t" transform="scale(1.0450 1)" x="540.53" y="891.7">0</text>
<text class="t" transform="scale(1.0450 1)" x="663.81 672.59 681.37" y="891.7">100</text>
<text class="t" transform="scale(1.0450 1)" x="795.68 804.46 813.24" y="891.7">200</text>
<text class="t" transform="scale(1.0450 1)" x="538.9 545.5 554.53 565.19 574.92 583.03 592.05 602.03 606.81 612.61 619.4 628.21 637.92 646.28 651.3 656.09 661.5 666.99 682.17 690.44 694.76 700.38 711.37 716.93 731.87 739.44 748.22 757.22 761.39 770.32 776.24 780.55 786.66 794.06 802.16 810.05" y="911.1">reduced travel time [T-R/18.0] (sec)</text>
<text class="t" transform="translate(498 775) rotate(-90) scale(1.0450 1)" x="-59.18 -45.67 -40.26 -30.35 -19.89 -15.58 -9.19 5.94 10.79 19.23 25.88 35.78 45.68 52.87" y="0">DISP (microns)</text>
<text class="a" transform="scale(0.9400 1)" x="606.15 616.65 625.93 635.36 640.37 649.65 660.16 666.73 676.17 681.18 690.46" y="696.8">−15.15/0.56</text>
<text class="a" transform="scale(0.9400 1)" x="606.15 616.65 625.93 635.36 640.37 650.88 657.45 666.89 671.89 681.18" y="729.65">−25.5/0.48</text>
<text class="a" transform="scale(0.9400 1)" x="606.15 616.65 625.93 635.36 640.37 649.65 660.16 666.73 676.17 681.18 690.46" y="783.6">−16.35/0.61</text>
<path class="k" d="M569.5 702.6L588 702.6C590.28 702.6 592.42 700.6 594.7 700.6C597.91 700.6 600.94 711.5 604.15 711.5C607.06 711.5 609.79 697.55 612.7 697.55C615.61 697.55 618.34 709.7 621.25 709.7C624.31 709.7 627.19 690.8 630.25 690.8C633.46 690.8 636.49 708.35 639.7 708.35C643.07 708.35 646.23 703.6 649.6 703.6C652.46 703.6 655.14 702.76 658 702.76C661.4 702.76 664.6 701.29 668 701.29C670.72 701.29 673.28 702.93 676 702.93C678.52 702.93 680.88 701.29 683.4 701.29C686.32 701.29 689.08 702.93 692 702.93C700.84 702.93 709.16 702.6 718 702.6C721.74 702.6 725.26 704.73 729 704.73C732.4 704.73 735.6 701.94 739 701.94C741.72 701.94 744.28 702.6 747 702.6C750.26 702.6 753.34 704.57 756.6 704.57C759.8 704.57 762.8 701.94 766 701.94C771.58 701.94 776.82 702.6 782.4 702.6"/>
<path class="k" d="M569.5 743.6L574 743.6C575.7 743.6 577.3 744.6 579 744.6C585.1 744.6 590.85 733.55 596.95 733.55C602 733.55 606.75 764.6 611.8 764.6C615.93 764.6 619.82 714.2 623.95 714.2C627.47 714.2 630.78 752 634.3 752C637.67 752 640.83 744.4 644.2 744.4C646.17 744.4 648.03 744.8 650 744.8C653.4 744.8 656.6 742.45 660 742.45C663.06 742.45 665.94 744.42 669 744.42C672.67 744.42 676.13 745.73 679.8 745.73C683.68 745.73 687.32 741.14 691.2 741.14C694.46 741.14 697.54 745.57 700.8 745.57C704.06 745.57 707.14 741.14 710.4 741.14C713.87 741.14 717.13 745.08 720.6 745.08C726.31 745.08 731.69 741.63 737.4 741.63C741 741.63 744.4 744.75 748 744.75C751.4 744.75 754.6 742.78 758 742.78C760.72 742.78 763.28 744.42 766 744.42C771.58 744.42 776.82 743.6 782.4 743.6"/>
<path class="k" d="M569.5 798.75L590 798.75C591.36 798.75 592.64 798.2 594 798.2C597.26 798.2 600.34 766.4 603.6 766.4C607.46 766.4 611.09 850.05 614.95 850.05C618.32 850.05 621.48 769.5 624.85 769.5C627.52 769.5 630.03 798 632.7 798C634.77 798 636.73 796.5 638.8 796.5C641.25 796.5 643.55 801.45 646 801.45C648.04 801.45 649.96 799 652 799C654.24 799 656.36 801.33 658.6 801.33C661.66 801.33 664.54 797.27 667.6 797.27C670.97 797.27 674.13 800.43 677.5 800.43C681.55 800.43 685.35 796.33 689.4 796.33C692.8 796.33 696 802.24 699.4 802.24C702.46 802.24 705.34 794.36 708.4 794.36C711.46 794.36 714.34 801.25 717.4 801.25C720.32 801.25 723.08 798.13 726 798.13C729.06 798.13 731.94 799.45 735 799.45C738.4 799.45 741.6 798.3 745 798.3C749.08 798.3 752.92 799.61 757 799.61C760.23 799.61 763.27 796.99 766.5 796.99C770 796.99 773.3 800.1 776.8 800.1C778.7 800.1 780.5 798.75 782.4 798.75"/>
<path class="r" d="M569.5 702.6L590 702.6C593.74 702.6 597.26 708.8 601 708.8C603.75 708.8 606.35 697.55 609.1 697.55C612.16 697.55 615.04 704.3 618.1 704.3C620.79 704.3 623.31 702.6 626 702.6L747 702.6C750.26 702.6 753.34 704.16 756.6 704.16C759.8 704.16 762.8 702.12 766 702.12C771.58 702.12 776.82 702.6 782.4 702.6"/>
<path class="r" d="M569.5 743.6L572 743.6C574.21 743.6 576.29 745.25 578.5 745.25C582.02 745.25 585.33 740.3 588.85 740.3C591.45 740.3 593.9 744.8 596.5 744.8C598.95 744.8 601.25 740.3 603.7 740.3C606.45 740.3 609.05 747.5 611.8 747.5C614.86 747.5 617.74 743.4 620.8 743.4C623.25 743.4 625.55 743.6 628 743.6L758 743.6C760.38 743.6 762.62 744.32 765 744.32C768.06 744.32 770.94 743.24 774 743.24C776.86 743.24 779.54 743.6 782.4 743.6"/>
<path class="r" d="M569.5 798.75L585 798.75C587.99 798.75 590.81 812.7 593.8 812.7C597.01 812.7 600.04 766.8 603.25 766.8C605.85 766.8 608.3 819.9 610.9 819.9C613.81 819.9 616.54 796.05 619.45 796.05C622.05 796.05 624.5 801 627.1 801C629.79 801 632.31 798.75 635 798.75L782.4 798.75"/>
<text class="c" x="786.6" y="702.9">Z</text>
<text class="c" x="786.6" y="742.7">R</text>
<text class="c" x="781.8" y="798.75">T</text>
</g>
<g>
<text class="h" transform="scale(1.0450 1)" x="896.28 909.11 921.25 935.69 946.52 952.08 968.01 983.17 987.73 1000.99 1012.23 1021.82 1031.4 1041.13 1046.31 1057.29 1073.5 1078.56 1093.63 1103.01 1114.26 1123.85 1133.43 1143.16 1148.39 1154.45 1162.55 1173.8" y="670.3">REDF.NN R=100 km Az=347 ts=0</text>
<path class="ax" d="M967.25 700 H972 V850 H967.25 M967.25 775 H972"/>
<path class="ax" d="M990 873.5 V868 H1266.2 M1265.5 868 V873.5M1058.88 868 V873.5M1127.75 868 V873.5M1196.62 868 V873.5"/>
<text class="t" transform="scale(1.0450 1)" x="885.02 893.8 902.58 911.36" y="706.7">1455</text>
<text class="t" transform="scale(1.0450 1)" x="911.36" y="856.8">0</text>
<text class="t" transform="scale(1.0450 1)" x="942.45" y="891.7">0</text>
<text class="t" transform="scale(1.0450 1)" x="1065.73 1074.51 1083.29" y="891.7">100</text>
<text class="t" transform="scale(1.0450 1)" x="1197.59 1206.37 1215.15" y="891.7">200</text>
<text class="t" transform="scale(1.0450 1)" x="940.81 947.41 956.44 967.1 976.84 984.94 993.97 1003.94 1008.73 1014.53 1021.31 1030.12 1039.83 1048.19 1053.21 1058 1063.42 1068.9 1084.08 1092.35 1096.67 1102.3 1113.28 1118.85 1133.79 1141.36 1150.14 1159.13 1163.31 1172.23 1178.15 1182.47 1188.57 1195.97 1204.08 1211.97" y="911.1">reduced travel time [T-R/18.0] (sec)</text>
<text class="t" transform="translate(918 775) rotate(-90) scale(1.0450 1)" x="-59.18 -45.67 -40.26 -30.35 -19.89 -15.58 -9.19 5.94 10.79 19.23 25.88 35.78 45.68 52.87" y="0">DISP (microns)</text>
<text class="a" transform="scale(0.9400 1)" x="1052.96 1063.46 1072.89 1077.9 1087.18 1097.69 1104.26 1113.69 1118.7 1127.98" y="697.25">−2.25/0.61</text>
<text class="a" transform="scale(0.9400 1)" x="1053.41 1062.84 1067.85 1077.13 1087.64 1094.21 1103.64 1108.65 1117.94" y="734.6">4.95/0.55</text>
<text class="a" transform="scale(0.9400 1)" x="1052.96 1063.46 1072.74 1082.17 1087.18 1096.46 1106.97 1113.54 1122.98 1127.98 1137.27" y="795.75">−16.95/0.78</text>
<path class="k" d="M989.5 704.3L996 704.3C1001.44 704.3 1006.56 700.7 1012 700.7C1016.44 700.7 1020.61 717.8 1025.05 717.8C1028.42 717.8 1031.58 698.45 1034.95 698.45C1037.7 698.45 1040.3 708.8 1043.05 708.8C1046.42 708.8 1049.58 691.25 1052.95 691.25C1056.47 691.25 1059.78 711.05 1063.3 711.05C1066.26 711.05 1069.04 708.4 1072 708.4C1076.76 708.4 1081.24 704.05 1086 704.05C1089.06 704.05 1091.94 703.56 1095 703.56C1098.26 703.56 1101.34 702.58 1104.6 702.58C1107.8 702.58 1110.8 704.71 1114 704.71C1126.24 704.71 1137.76 704.3 1150 704.3C1154.96 704.3 1159.64 703.07 1164.6 703.07C1168.07 703.07 1171.33 706.51 1174.8 706.51C1178.27 706.51 1181.53 703.07 1185 703.07C1188.4 703.07 1191.6 705.04 1195 705.04C1197.52 705.04 1199.88 704.3 1202.4 704.3"/>
<path class="k" d="M989.5 748.6L993 748.6C996.06 748.6 998.94 747.4 1002 747.4C1006.78 747.4 1011.27 736.7 1016.05 736.7C1020.64 736.7 1024.96 776.25 1029.55 776.25C1034.45 776.25 1039.05 721.4 1043.95 721.4C1048.54 721.4 1052.86 760.1 1057.45 760.1C1061.89 760.1 1066.06 748.8 1070.5 748.8C1073.73 748.8 1076.77 748.2 1080 748.2C1086.8 748.2 1093.2 748.6 1100 748.6C1104.83 748.6 1109.37 746.47 1114.2 746.47C1117.46 746.47 1120.54 750.4 1123.8 750.4C1127.47 750.4 1130.93 746.96 1134.6 746.96C1139.09 746.96 1143.31 750.4 1147.8 750.4C1151.47 750.4 1154.93 746.96 1158.6 746.96C1161.8 746.96 1164.8 749.09 1168 749.09C1171.4 749.09 1174.6 750.08 1178 750.08C1181.4 750.08 1184.6 748.11 1188 748.11C1192.9 748.11 1197.5 748.6 1202.4 748.6"/>
<path class="k" d="M989.5 810.4L1000 810.4C1003.91 810.4 1007.59 810 1011.5 810C1015.75 810 1019.75 776.5 1024 776.5C1027.88 776.5 1031.52 850.05 1035.4 850.05C1039.38 850.05 1043.12 781.2 1047.1 781.2C1051.08 781.2 1054.82 815.85 1058.8 815.85C1061.42 815.85 1063.88 809.1 1066.5 809.1C1070.24 809.1 1073.76 813.6 1077.5 813.6C1081.07 813.6 1084.43 809.74 1088 809.74C1091.06 809.74 1093.94 810.56 1097 810.56C1101.22 810.56 1105.18 808.1 1109.4 808.1C1113.07 808.1 1116.53 813.02 1120.2 813.02C1123.67 813.02 1126.93 807.61 1130.4 807.61C1133.87 807.61 1137.13 812.2 1140.6 812.2C1143.8 812.2 1146.8 810.07 1150 810.07C1156.8 810.07 1163.2 810.4 1170 810.4C1172.72 810.4 1175.28 811.22 1178 811.22C1181.2 811.22 1184.2 809.09 1187.4 809.09C1190.32 809.09 1193.08 810.89 1196 810.89C1198.18 810.89 1200.22 810.4 1202.4 810.4"/>
<path class="r" d="M989.5 704.3L996 704.3C1000.52 704.3 1004.78 701.15 1009.3 701.15C1013.89 701.15 1018.21 712.85 1022.8 712.85C1025.86 712.85 1028.74 697.1 1031.8 697.1C1035.47 697.1 1038.93 707.45 1042.6 707.45C1045.66 707.45 1048.54 704 1051.6 704C1054.46 704 1057.14 704.3 1060 704.3L1152 704.3C1156.28 704.3 1160.32 703.4 1164.6 703.4C1168.07 703.4 1171.33 705.92 1174.8 705.92C1178.27 705.92 1181.53 703.4 1185 703.4C1188.4 703.4 1191.6 704.84 1195 704.84C1197.52 704.84 1199.88 704.3 1202.4 704.3"/>
<path class="r" d="M989.5 748.6L991 748.6C992.94 748.6 994.76 751.55 996.7 751.55C1001.14 751.55 1005.31 744.35 1009.75 744.35C1012.35 744.35 1014.8 749.3 1017.4 749.3C1020 749.3 1022.45 744.8 1025.05 744.8C1028.57 744.8 1031.88 754.7 1035.4 754.7C1039.38 754.7 1043.12 747.05 1047.1 747.05C1050.13 747.05 1052.97 748.6 1056 748.6L1150 748.6C1153.4 748.6 1156.6 747.64 1160 747.64C1165.1 747.64 1169.9 749.8 1175 749.8C1180.1 749.8 1184.9 748.24 1190 748.24C1194.22 748.24 1198.18 748.6 1202.4 748.6"/>
<path class="r" d="M989.5 810.4L993 810.4C995.79 810.4 998.41 806.85 1001.2 806.85C1005.48 806.85 1009.52 829.35 1013.8 829.35C1017.47 829.35 1020.93 775.8 1024.6 775.8C1027.97 775.8 1031.13 832.5 1034.5 832.5C1038.48 832.5 1042.22 806.4 1046.2 806.4C1049.26 806.4 1052.14 811.8 1055.2 811.8C1058.19 811.8 1061.01 809.8 1064 809.8C1067.74 809.8 1071.26 810.4 1075 810.4L1178 810.4C1181.2 810.4 1184.2 809.44 1187.4 809.44C1190.32 809.44 1193.08 810.88 1196 810.88C1198.18 810.88 1200.22 810.4 1202.4 810.4"/>
<text class="c" x="1206.6" y="705.6">Z</text>
<text class="c" x="1206.6" y="748.9">R</text>
<text class="c" x="1201.8" y="810.7">T</text>
</g>
</svg></body></html>
